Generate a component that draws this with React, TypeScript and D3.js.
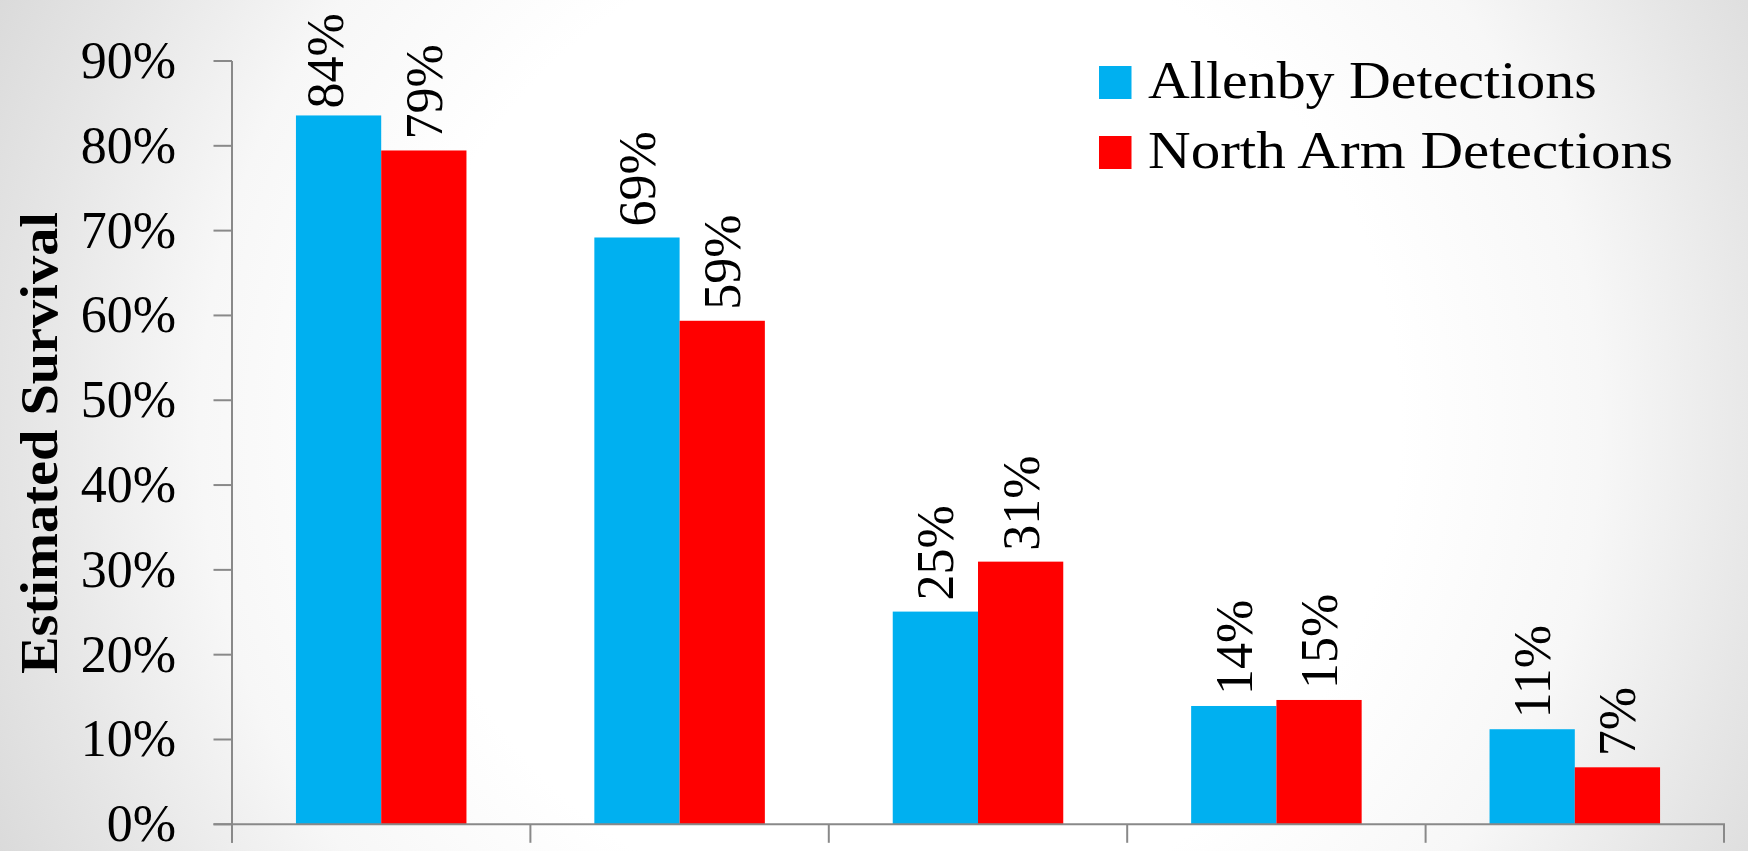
import React from "react";
import * as d3 from "d3";

const categories = ["Group 1", "Group 2", "Group 3", "Group 4", "Group 5"];
const seriesNames = ["Allenby Detections", "North Arm Detections"];
const seriesColors = ["#00B0F0", "#FF0000"];
const allenby = [0.8358, 0.6919, 0.2508, 0.1395, 0.1121];
const northArm = [0.7945, 0.5937, 0.3097, 0.1466, 0.0672];
const yTicks = [0, 0.1, 0.2, 0.3, 0.4, 0.5, 0.6, 0.7, 0.8, 0.9];

const W = 1748;
const H = 851;
const FONT = "'Liberation Serif', 'Times New Roman', serif";
const AXIS = "#898989";

export default function App() {
  React.useEffect(() => {
    document.body.style.margin = "0";
  }, []);

  const x0 = 232;
  const x1 = 1724;
  const yBase = 824.3;
  const yTop = 61;

  const x = d3
    .scaleBand<string>()
    .domain(categories)
    .range([x0, x1])
    .paddingInner(1.5 / 3.5)
    .paddingOuter(0.75 / 3.5);
  const step = x.step();
  const xs = d3.scaleBand<number>().domain([0, 1]).range([0, x.bandwidth()]).padding(0);
  const y = d3.scaleLinear().domain([0, 0.9]).range([yBase, yTop]);
  const fmt = d3.format(".0%");
  const series = [allenby, northArm];

  const labelGap = 11;
  const labelLen = 95;

  return (
    <svg
      width={W}
      height={H}
      style={{ display: "block", position: "absolute", left: 0, top: 0 }}
      fontFamily={FONT}
    >
      <defs>
        <radialGradient id="bg" gradientUnits="userSpaceOnUse" cx={900} cy={425} r={1000}>
          <stop offset="0" stopColor="#ffffff" />
          <stop offset="0.5" stopColor="#ffffff" />
          <stop offset="0.7" stopColor="#f7f7f7" />
          <stop offset="0.87" stopColor="#e6e6e6" />
          <stop offset="1" stopColor="#dadada" />
        </radialGradient>
      </defs>
      <rect x={0} y={0} width={W} height={H} fill="url(#bg)" />

      {/* bars */}
      {series.map((vals, si) =>
        categories.map((c, ci) => {
          const bx = (x(c) as number) + (xs(si) as number);
          const by = y(vals[ci]);
          return (
            <rect
              key={`b${si}-${ci}`}
              x={bx}
              y={by}
              width={xs.bandwidth()}
              height={yBase - by}
              fill={seriesColors[si]}
            />
          );
        })
      )}

      {/* data labels */}
      {series.map((vals, si) =>
        categories.map((c, ci) => {
          const cx = (x(c) as number) + (xs(si) as number) + xs.bandwidth() / 2;
          let start = y(vals[ci]) - labelGap;
          let dx = 18;
          const txt = fmt(vals[ci]);
          if (start - labelLen < 12) {
            start = 108.5;
            dx = 4.5;
          }
          return (
            <text
              key={`l${si}-${ci}`}
              transform={`translate(${cx + dx},${start}) rotate(-90)`}
              fontSize={52}
              fill="#000"
            >
              {txt}
            </text>
          );
        })
      )}

      {/* y axis */}
      <line x1={x0} x2={x0} y1={yTop} y2={yBase + 18.5} stroke={AXIS} strokeWidth={2} />
      {yTicks.map((t) => (
        <g key={`t${t}`}>
          <line x1={x0 - 18.5} x2={x0} y1={y(t)} y2={y(t)} stroke={AXIS} strokeWidth={2} />
          <text x={176} y={y(t) + 17} textAnchor="end" fontSize={52} fill="#000">
            {fmt(t)}
          </text>
        </g>
      ))}

      {/* x axis */}
      <line x1={x0 - 18.5} x2={x0 + step * categories.length + 1} y1={yBase} y2={yBase} stroke={AXIS} strokeWidth={2} />
      {d3.range(categories.length + 1).map((i) => (
        <line
          key={`xt${i}`}
          x1={x0 + i * step}
          x2={x0 + i * step}
          y1={yBase}
          y2={yBase + 18.5}
          stroke={AXIS}
          strokeWidth={2}
        />
      ))}

      {/* y axis title */}
      <text
        transform={`translate(57,443) rotate(-90)`}
        textAnchor="middle"
        fontSize={52}
        fontWeight="bold"
        textLength={462}
        lengthAdjust="spacingAndGlyphs"
      >
        Estimated Survival
      </text>

      {/* legend */}
      {seriesNames.map((n, i) => (
        <g key={`lg${i}`}>
          <rect x={1099} y={66 + i * 70} width={32.5} height={33} fill={seriesColors[i]} />
          <text
            x={1148}
            y={98.3 + i * 69.5}
            fontSize={52}
            textLength={i === 0 ? 448.7 : 525}
            lengthAdjust="spacingAndGlyphs"
          >
            {n}
          </text>
        </g>
      ))}
    </svg>
  );
}
